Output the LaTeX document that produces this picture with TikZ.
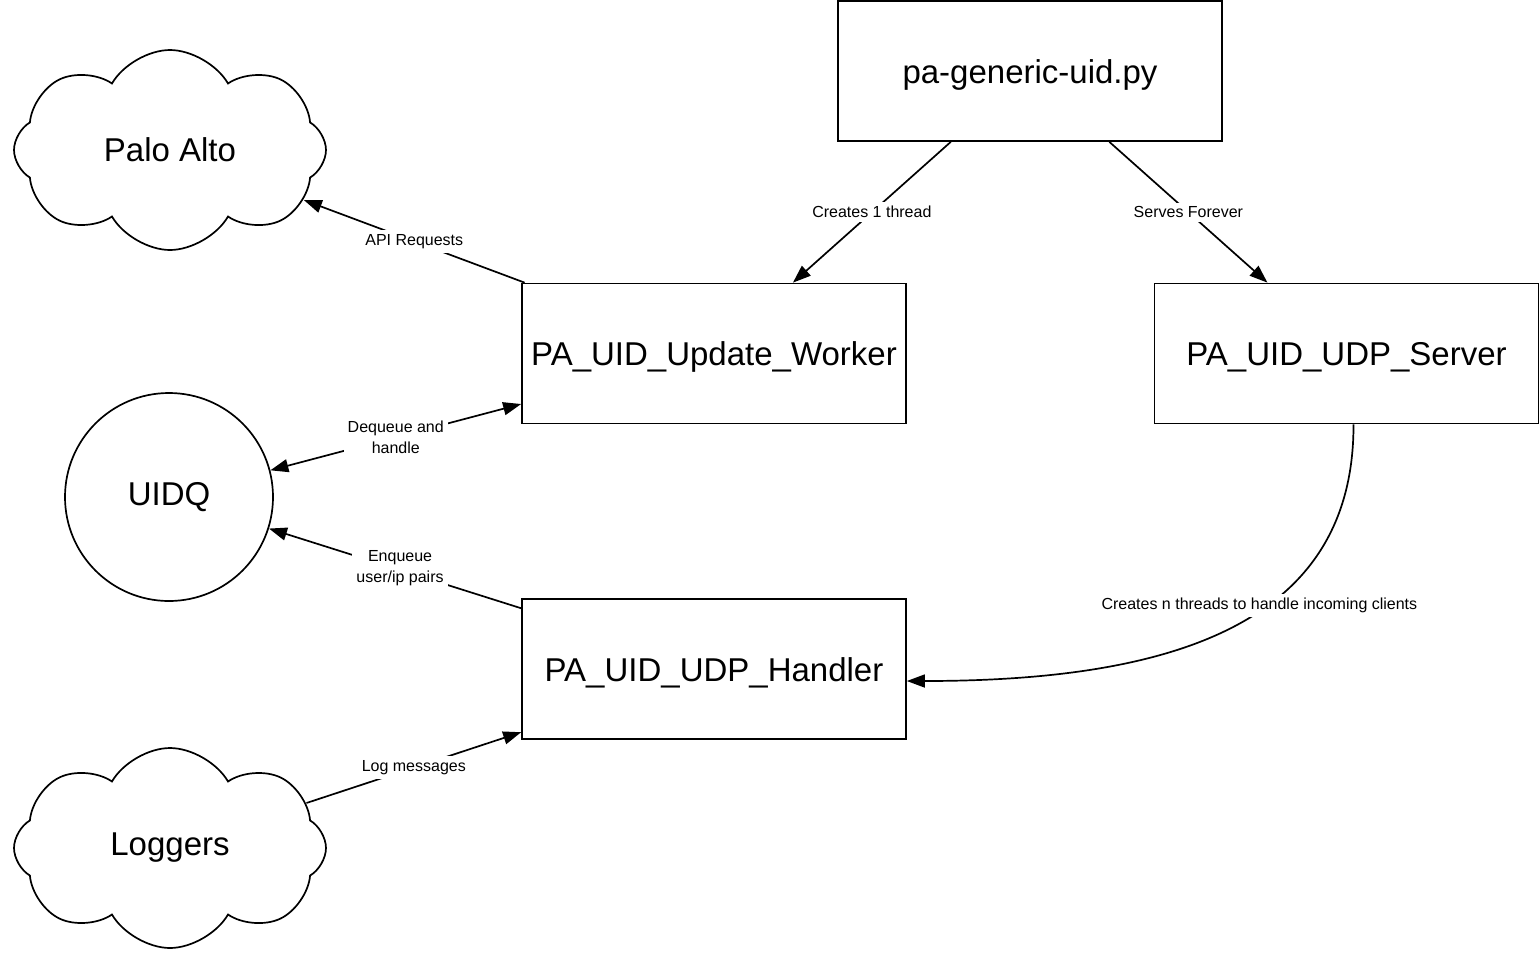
\documentclass[tikz,border=0pt]{standalone}
\usepackage{fontspec}
\setmainfont{Liberation Sans}
\usepackage{tikz}
\usetikzlibrary{arrows.meta,shapes.symbols}

\begin{document}
\begin{tikzpicture}[x=1pt,y=1pt,->,>={Triangle[length=18pt,width=13pt]},line width=1.7pt,
                    box node/.style={rectangle,draw,minimum width=384pt,minimum height=140pt,text height=24pt,text depth=0pt,font=\fontsize{33}{40}\selectfont},
                    cloud node/.style={cloud,draw,cloud puffs=8,cloud puff arc=120,aspect=1.6,shape border rotate=22.5,minimum width=312pt,minimum height=200pt,inner sep=0pt,font=\fontsize{33}{40}\selectfont},
                    queue node/.style={circle,draw,minimum size=208pt,inner sep=0pt,font=\fontsize{33}{40}\selectfont}]
  \useasboundingbox (0,0) rectangle (1540,-954);

  \node[box node] (gen) at (1030,-71) {pa-generic-uid.py};
  \node[box node] (worker) at (714,-353.5) {PA\_UID\_Update\_Worker};
  \node[box node] (server) at (1346.5,-353.5) {PA\_UID\_UDP\_Server};
  \node[box node] (handler) at (714,-669) {PA\_UID\_UDP\_Handler};

  \node[cloud node] (paloalto) at (170,-150) {Palo Alto};
  \node[queue node] (uidq) at (169,-497) {UIDQ};
  \node[cloud node] (loggers) at (170,-848) {Loggers};

  \path[every node/.style={fill=white,inner sep=4pt,align=center,font=\fontsize{16}{21}\selectfont}]
    (gen) edge node {Creates 1 thread} (worker)
    (gen) edge node {Serves Forever} (server)
    (worker) edge node {API Requests} (paloalto)
    (worker) edge [<->] node {Dequeue and\\handle} (uidq)
    (handler) edge node[xshift=5pt] {Enqueue\\user/ip pairs} (uidq)
    (loggers) edge node {Log messages} (handler)
  ;

  \draw ([xshift=7pt]server.south) .. controls (1354,-620) and (1180,-681) .. ([yshift=-12pt]handler.east)
    node[pos=0.42,xshift=-8pt,fill=white,inner sep=4pt,font=\fontsize{16}{21}\selectfont] {Creates n threads to handle incoming clients};
\end{tikzpicture}
\end{document}
